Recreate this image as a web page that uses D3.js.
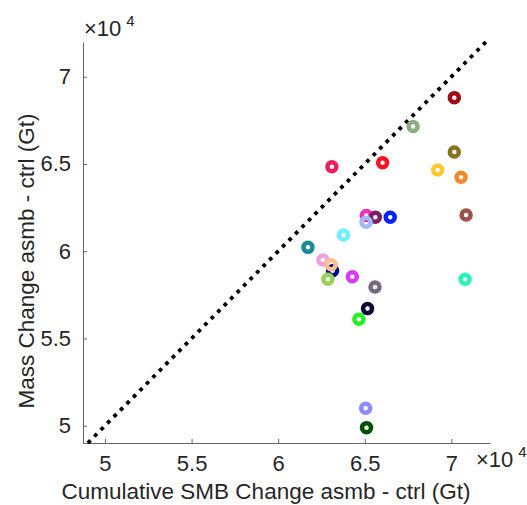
<!DOCTYPE html>
<html>
<head>
<meta charset="utf-8">
<script src="https://cdn.jsdelivr.net/npm/d3@7"></script>
<style>
  html, body { margin: 0; padding: 0; background: #fff; }
  svg { display: block; font-family: "Liberation Sans", Arial, Helvetica, sans-serif; }
</style>
</head>
<body>
<svg id="chart" width="527" height="505"></svg>
<script>
// Cumulative SMB change vs. mass change per simulation (Gt)
const smbChange = [
  70170, 67790, 70170, 66030, 63100, 69210, 70560,
  65090, 65610, 66470, 70850, 65070, 63770, 61720,
  63140, 62580, 63060, 62870, 70790, 64280, 65590,
  65160, 64660, 65050, 65100
];
const massChange = [
  68800, 67140, 65690, 65070, 64840, 64650, 64240,
  62040, 61940, 61940, 62080, 61660, 60930, 60220,
  58880, 59500, 59230, 58390, 58390, 58540, 57950,
  56710, 56100, 51000, 49890
];
const pointColors = [
  "#a00a14", "#8fab80", "#857518", "#ff1020", "#ee1e5c", "#ffc830", "#f08a28",
  "#f030b4", "#7a1e68", "#0022ff", "#a0504a", "#a0baf5", "#6ef0ff", "#1a8a96",
  "#000a8a", "#f0a0dc", "#ffc090", "#96d25a", "#28f5b8", "#d23cf5", "#786a82",
  "#0a0a32", "#28f028", "#8c8cff", "#005000"
];
const tickValues = [50000, 55000, 60000, 65000, 70000];
const xDomain = [48730, 72230];
const yDomain = [49009, 71988];
const xLabel = "Cumulative SMB Change asmb - ctrl (Gt)";
const yLabel = "Mass Change asmb - ctrl (Gt)";

const svg = d3.select("#chart");
const plotL = 83, plotR = 490, plotT = 42, plotB = 443;
const fontSize = 22;

const x = d3.scaleLinear().domain(xDomain).range([plotL, plotR]);
const y = d3.scaleLinear().domain(yDomain).range([plotB, plotT]);

const fmt = d => String(d / 1e4);
const axisColor = "#666";
const textColor = "#262626";

const xAxis = svg.append("g")
  .attr("transform", `translate(0,${plotB})`)
  .call(d3.axisBottom(x).tickValues(tickValues).tickFormat(fmt)
    .tickSizeInner(-4).tickSizeOuter(0).tickPadding(12));
const yAxis = svg.append("g")
  .attr("transform", `translate(${plotL},0)`)
  .call(d3.axisLeft(y).tickValues(tickValues).tickFormat(fmt)
    .tickSizeInner(-4).tickSizeOuter(0).tickPadding(12));

[xAxis, yAxis].forEach(g => {
  g.select(".domain").attr("stroke", axisColor).attr("stroke-width", 1);
  g.selectAll(".tick line").attr("stroke", axisColor);
  g.selectAll(".tick text").attr("fill", textColor)
    .style("font-size", fontSize + "px")
    .style("font-family", '"Liberation Sans", Arial, Helvetica, sans-serif');
});

// 1:1 reference line
const lo = Math.max(xDomain[0], yDomain[0]);
const hi = Math.min(xDomain[1], yDomain[1]);
svg.append("line")
  .attr("x1", x(lo)).attr("y1", y(lo))
  .attr("x2", x(hi)).attr("y2", y(hi))
  .attr("stroke", "#000")
  .attr("stroke-width", 3.8)
  .attr("stroke-dasharray", "3.8 5.4");

// ring markers
svg.append("g").selectAll("circle")
  .data(smbChange.map((v, i) => ({ sx: v, my: massChange[i], c: pointColors[i] })))
  .join("circle")
  .attr("cx", d => x(d.sx))
  .attr("cy", d => y(d.my))
  .attr("r", 4.5)
  .attr("fill", "none")
  .attr("stroke", d => d.c)
  .attr("stroke-width", 4.5);

// axis labels
svg.append("text")
  .attr("x", 266).attr("y", 499)
  .attr("text-anchor", "middle")
  .attr("fill", textColor)
  .style("font-size", "22.5px")
  .text(xLabel);

svg.append("text")
  .attr("transform", "translate(34,261) rotate(-90)")
  .attr("text-anchor", "middle")
  .attr("fill", textColor)
  .style("font-size", "22.5px")
  .text(yLabel);

// exponent multipliers
function exponent(px, py) {
  const t = svg.append("text")
    .attr("x", px).attr("y", py)
    .attr("fill", textColor)
    .style("font-size", fontSize + "px");
  t.append("tspan").text("\u00d710");
  t.append("tspan").attr("dx", 5).attr("dy", -10).style("font-size", "15px").text("4");
}
exponent(84, 36);
exponent(476, 467);
</script>
</body>
</html>
